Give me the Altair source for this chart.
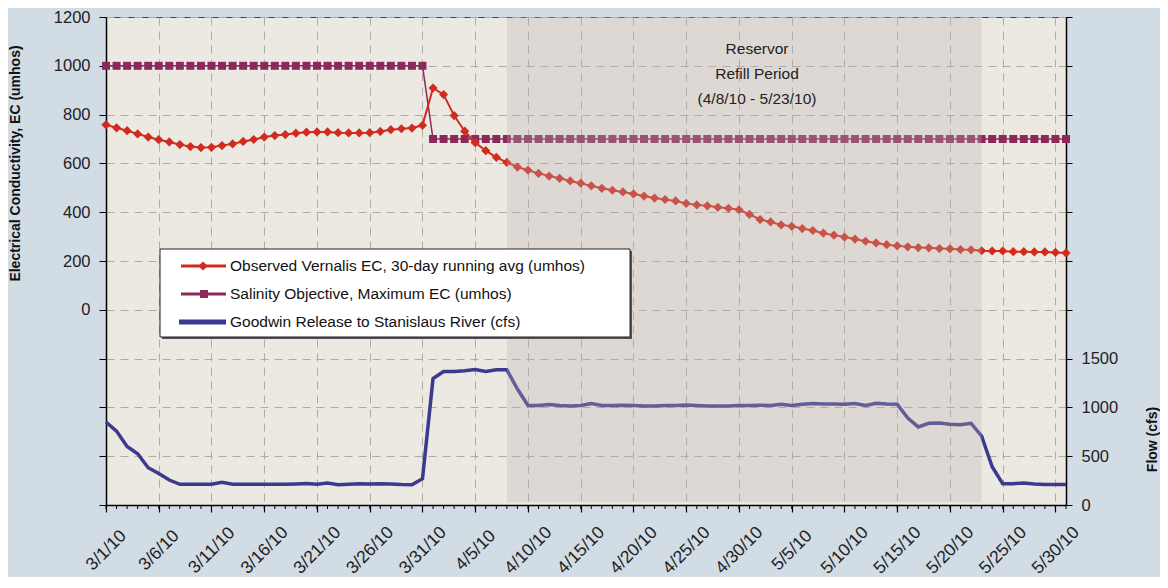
import altair as alt
import pandas as pd

# ---------------- data ----------------
dates = pd.date_range("2010-03-01", "2010-05-31", freq="D").strftime("%Y-%m-%d").tolist()

ec_values = [
    758, 746, 734, 721, 708, 697, 688, 677, 669, 665,
    666, 673, 680, 690, 698, 708, 714, 718, 724, 728,
    729, 729, 726, 725, 725, 726, 731, 738, 742, 745,
    756, 909, 882, 796, 732, 685, 652, 625, 604, 585,
    572, 559, 548, 539, 528, 519, 508, 498, 490, 483,
    475, 466, 458, 452, 446, 436, 430, 426, 420, 416,
    410, 391, 370, 360, 348, 342, 333, 325, 314, 306,
    298, 290, 281, 274, 267, 262, 258, 255, 254, 251,
    250, 247, 246, 242, 241, 241, 238, 238, 237, 237,
    235, 233,
]

objective_values = [
    1000, 1000, 1000, 1000, 1000, 1000, 1000, 1000, 1000, 1000,
    1000, 1000, 1000, 1000, 1000, 1000, 1000, 1000, 1000, 1000,
    1000, 1000, 1000, 1000, 1000, 1000, 1000, 1000, 1000, 1000,
    1000, 700, 700, 700, 700, 700, 700, 700, 700, 700,
    700, 700, 700, 700, 700, 700, 700, 700, 700, 700,
    700, 700, 700, 700, 700, 700, 700, 700, 700, 700,
    700, 700, 700, 700, 700, 700, 700, 700, 700, 700,
    700, 700, 700, 700, 700, 700, 700, 700, 700, 700,
    700, 700, 700, 700, 700, 700, 700, 700, 700, 700,
    700, 700,
]

flow_values = [
    850, 757, 600, 525, 382, 322, 256, 212, 212, 212,
    212, 232, 212, 212, 212, 212, 212, 212, 215, 220,
    212, 225, 208, 212, 218, 215, 218, 215, 210, 208,
    269, 1295, 1368, 1368, 1375, 1388, 1368, 1385, 1385, 1188,
    1019, 1019, 1030, 1019, 1015, 1019, 1039, 1019, 1019, 1022,
    1019, 1015, 1015, 1019, 1019, 1025, 1019, 1015, 1015, 1015,
    1019, 1019, 1022, 1019, 1032, 1019, 1032, 1039, 1035, 1035,
    1032, 1039, 1019, 1042, 1035, 1032, 890, 800, 837, 840,
    828, 822, 837, 707, 392, 219, 219, 225, 215, 209,
    209, 209,
]

tick_dates = dates[0:91:5]          # 3/1/10 ... 5/30/10
refill_start = "2010-04-08"
refill_end = "2010-05-23"
annotation_lines = ["Reservor", "Refill Period", "(4/8/10 - 5/23/10)"]
legend_labels = [
    "Observed Vernalis EC, 30-day running avg (umhos)",
    "Salinity Objective, Maximum EC (umhos)",
    "Goodwin Release to Stanislaus River (cfs)",
]
ec_ticks = [-800, -600, -400, -200, 0, 200, 400, 600, 800, 1000, 1200]
flow_ticks = [0, 500, 1000, 1500, 2000, 2500, 3000, 3500, 4000, 4500, 5000]

# ---------------- style ----------------
W, H = 960, 488
FONT = "Liberation Sans"
RED = "#d22a1e"
MAROON = "#8b2a5a"
NAVY = "#3c3a8e"
GRID = "#aeaaa4"

df = pd.DataFrame({"date": dates, "ec": ec_values, "objective": objective_values, "flow": flow_values})


def dt(s):
    y, m, d = (int(v) for v in s.split("-"))
    return alt.DateTime(year=y, month=m, date=d, utc=True)


x_scale = alt.Scale(type="utc", domain=[dt(dates[0]), dt(dates[-1])])
x_axis = alt.Axis(
    values=[dt(s) for s in tick_dates],
    labelExpr="utcFormat(datum.value, '%-m/%-d/%y')",
    labelAngle=315, labelAlign="center", labelBaseline="middle", labelPadding=38,
    labelFlush=False, labelOverlap=False,
    labelFont=FONT, labelFontSize=17.5, labelColor="#222",
    tickSize=7, tickColor="#000", tickWidth=1.2,
    domainColor="#000", domainWidth=1.5,
    grid=True, gridColor=GRID, gridDash=[8, 6], gridWidth=1,
    title=None,
)


def xenc(field):
    return alt.X(f"{field}:T", scale=x_scale, axis=x_axis, title=None)


y_ec = alt.Y(
    "value:Q",
    scale=alt.Scale(domain=[-800, 1200], nice=False, zero=False),
    axis=alt.Axis(
        values=ec_ticks, format="d",
        labelExpr="datum.value >= 0 ? datum.label : ''",
        labelFont=FONT, labelFontSize=16.5, labelColor="#222", labelPadding=9,
        tickSize=7, tickColor="#000", domainColor="#000", domainWidth=1.5,
        grid=True, gridColor=GRID, gridDash=[8, 6], gridWidth=1,
        title="Electrical Conductivity, EC (umhos)",
        titleFont=FONT, titleFontSize=14, titleFontWeight="bold", titleColor="#111",
        titleAngle=270, titleAlign="center", titleBaseline="middle",
        titleX=-91, titleY=146,
    ),
)

y_flow = alt.Y(
    "flow:Q",
    scale=alt.Scale(domain=[0, 5000], nice=False),
    axis=alt.Axis(
        orient="right",
        values=flow_ticks, format="d",
        labelExpr="datum.value <= 1500 ? datum.label : ''",
        labelFont=FONT, labelFontSize=16.5, labelColor="#222", labelPadding=9,
        tickSize=6, tickColor="#000", domainColor="#000", domainWidth=1.5,
        grid=False,
        title="Flow (cfs)",
        titleFont=FONT, titleFontSize=14, titleFontWeight="bold", titleColor="#111",
        titleAngle=270, titleAlign="center", titleBaseline="middle",
        titleX=86, titleY=422,
    ),
)

base_ec = alt.Chart(df)

obj_line = base_ec.transform_calculate(value="datum.objective").mark_line(
    color=MAROON, strokeWidth=1.5).encode(x=xenc("date"), y=y_ec)
obj_pts = base_ec.transform_calculate(value="datum.objective").mark_point(
    shape="square", filled=True, size=64, opacity=1, color=MAROON).encode(x=xenc("date"), y=y_ec)
ec_line = base_ec.transform_calculate(value="datum.ec").mark_line(
    color=RED, strokeWidth=2).encode(x=xenc("date"), y=y_ec)
ec_pts = base_ec.transform_calculate(value="datum.ec").mark_point(
    shape="diamond", filled=True, size=85, opacity=1, color=RED).encode(x=xenc("date"), y=y_ec)

ec_group = alt.layer(obj_line, obj_pts, ec_line, ec_pts)

flow_layer = alt.Chart(df).mark_line(color=NAVY, strokeWidth=3.5).encode(x=xenc("date"), y=y_flow)

main = alt.layer(flow_layer, ec_group).resolve_scale(y="independent")

# refill period overlay (semi-transparent, drawn over the series)
refill_df = pd.DataFrame({"start": [refill_start], "end": [refill_end]})
overlay = alt.Chart(refill_df).mark_rect(color="#b9b4af", opacity=0.3).encode(
    x=xenc("start"),
    x2="end:T",
    y=alt.value(0), y2=alt.value(H - 3),
)

# minor daily ticks
minor = alt.Chart(pd.DataFrame({"date": dates})).mark_rule(color="#000", strokeWidth=1).encode(
    x=xenc("date"),
    y=alt.value(H), y2=alt.value(H + 4),
)

# annotation text
ann_layers = []
for txt, yy in zip(annotation_lines, [32, 57, 82]):
    ann_layers.append(
        alt.Chart(pd.DataFrame({"t": [txt]})).mark_text(
            font=FONT, fontSize=15.5, color="#222", align="center", baseline="middle"
        ).encode(text="t:N", x=alt.value(651), y=alt.value(yy))
    )

# legend (drawn manually)
one = pd.DataFrame({"k": [0]})
LX0, LX1, LY0, LY1 = 54, 524, 232, 320
leg = [
    alt.Chart(one).mark_rect(color="#555").encode(
        x=alt.value(LX0 + 2), x2=alt.value(LX1 + 2), y=alt.value(LY0 + 2), y2=alt.value(LY1 + 2)),
    alt.Chart(one).mark_rect(fill="#ffffff", stroke="#222", strokeWidth=1).encode(
        x=alt.value(LX0), x2=alt.value(LX1), y=alt.value(LY0), y2=alt.value(LY1)),
]
row_y = [249, 277, 305]
colors = [RED, MAROON, NAVY]
for i, (lab, yy, col) in enumerate(zip(legend_labels, row_y, colors)):
    sw = 3 if i < 2 else 5
    x0 = 75 if i < 2 else 73
    leg.append(alt.Chart(one).mark_rule(color=col, strokeWidth=sw).encode(
        x=alt.value(x0), x2=alt.value(120), y=alt.value(yy)))
    if i == 0:
        leg.append(alt.Chart(one).mark_point(shape="diamond", filled=True, size=85, opacity=1, color=col).encode(
            x=alt.value(97), y=alt.value(yy)))
    elif i == 1:
        leg.append(alt.Chart(one).mark_point(shape="square", filled=True, size=64, opacity=1, color=col).encode(
            x=alt.value(98), y=alt.value(yy)))
    leg.append(alt.Chart(pd.DataFrame({"t": [lab]})).mark_text(
        font=FONT, fontSize=15.5, color="#111", align="left", baseline="middle").encode(
        text="t:N", x=alt.value(124), y=alt.value(yy)))

chart = alt.layer(main, overlay, minor, *ann_layers, *leg).properties(
    width=W, height=H,
    padding={"left": 98, "top": 9, "right": 94, "bottom": 72},
    autosize=alt.AutoSizeParams(type="none"),
).configure(
    background="#d2dce5",
).configure_view(
    fill="#ece9e2", stroke="#444", strokeWidth=1,
)

chart.save("out.html", embed_options={"renderer": "svg", "actions": False})
